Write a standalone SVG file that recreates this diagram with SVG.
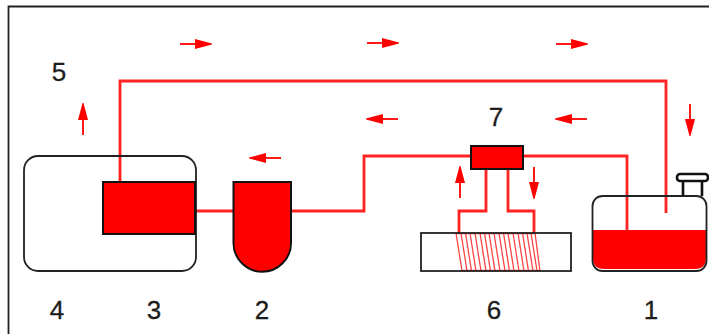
<svg xmlns="http://www.w3.org/2000/svg" width="709" height="334" viewBox="0 0 709 334">
<style>
text{font-family:"Liberation Sans",Arial,sans-serif;font-size:26px;fill:#1c1c1c;text-anchor:middle;stroke:#1c1c1c;stroke-width:.3}
.o{fill:none;stroke:#222;stroke-width:1.8}
.f{fill:#f00;stroke:#111;stroke-width:2}
.p{fill:none;stroke:#f22;stroke-width:2.8}
.c{fill:none;stroke:#f44;stroke-width:1.3}
.a{stroke:#f00;stroke-width:1.8;fill:none}
.h{fill:#f00}
.k{fill:none;stroke:#111;stroke-width:2.6}
</style>
<defs>
<g id="ar"><line class="a" x1="0" y1="0" x2="18" y2="0"/><path class="h" d="M15 -5L32 -0.500V0.500L15 5Z"/></g>
</defs>
<rect width="709" height="334" fill="#fff"/>
<path d="M709 6.500H8.500V334" fill="none" stroke="#222" stroke-width="1.8"/>
<g id="connectors">
<path class="p" d="M120 183V81H666V213"/>
<path class="p" d="M195 211H233M291 211H364V156H471M523 156H627V230"/>
<path class="p" d="M486 169V211H459V233M508 169V211H534V233"/>
<path class="c" d="M456 233L462 271M461 233L467 271M465.500 233L471.500 271M470 233L476 271M456 233.500H535M461 270.500H540M475 233L481 271M480 233L486 271M484.500 233L490.500 271M489 233L495 271M494 233L500 271M499 233L505 271M503.500 233L509.500 271M508 233L514 271M513 233L519 271M518 233L524 271M522.500 233L528.500 271M527 233L533 271M531 233L537 271M535 233L540 271"/>
<use href="#ar" x="180" y="44"/>
<use href="#ar" x="367" y="43"/>
<use href="#ar" x="556" y="44"/>
<use href="#ar" transform="translate(398 119) rotate(180)"/>
<use href="#ar" transform="translate(587 119) rotate(180)"/>
<use href="#ar" transform="translate(281 158) rotate(180)"/>
<use href="#ar" transform="translate(83 135) rotate(-90)"/>
<use href="#ar" transform="translate(690 104) rotate(90)"/>
<use href="#ar" transform="translate(460 198) rotate(-90)"/>
<use href="#ar" transform="translate(534 167) rotate(90)"/>
</g>
<g id="n4"><rect class="o" x="24" y="156" width="172" height="115" rx="14"/><text x="57" y="319">4</text></g>
<g id="n3"><rect class="f" x="103" y="182" width="92" height="52"/><text x="154" y="319">3</text></g>
<g id="n2"><path class="f" d="M233.500 182H291V243A28.750 28.750 0 0 1 233.500 243Z"/><text x="262" y="319">2</text></g>
<g id="n7"><rect class="f" x="471" y="146" width="52" height="23"/><text x="496" y="126">7</text></g>
<g id="n6"><rect class="o" x="421" y="233" width="150" height="38"/><text x="494" y="319">6</text></g>
<g id="n1">
<path d="M593 230H706V258Q706 269 695 269H604Q593 269 593 258Z" fill="#f00"/>
<rect class="o" x="592.500" y="196" width="114" height="75" rx="10"/>
<path class="k" d="M683 196V181M702 196V181"/>
<rect class="k" x="677" y="174" width="31" height="7" rx="3"/>
<text x="651" y="319">1</text>
</g>
<g id="n5"><text x="59" y="81">5</text></g>
</svg>
